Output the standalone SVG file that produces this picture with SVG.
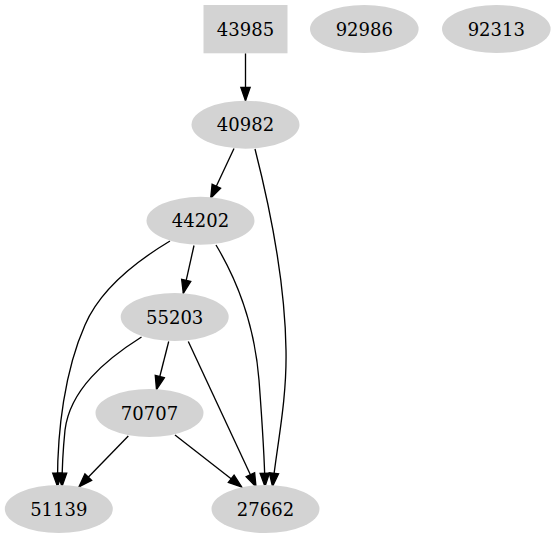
<svg xmlns="http://www.w3.org/2000/svg" width="555" height="539" viewBox="0 0 555 539">
<defs>
<style>
.n{fill:#d3d3d3;stroke:none}
.t{font-family:"DejaVu Serif","Liberation Serif",serif;font-size:18px;fill:#000;text-anchor:middle}
.e{fill:none;stroke:#000;stroke-width:1.33}
</style>
<marker id="ah" markerUnits="userSpaceOnUse" markerWidth="14" markerHeight="10" refX="13.3" refY="4.67" orient="auto" overflow="visible">
<path d="M0,0 L13.3,4.67 L0,9.33 Z" fill="#000" stroke="#000" stroke-width="1.33"/>
</marker>
</defs>
<rect width="555" height="539" fill="#fff"/>
<g id="edges">
<path class="e" marker-end="url(#ah)" d="M245.5,53.3 L245.5,100.7"/>
<path class="e" marker-end="url(#ah)" d="M234,148.5 L210.7,198.3"/>
<path class="e" marker-end="url(#ah)" d="M255,149 C268,200 285,280 286,350 C287,400 277,445 272.5,486.5"/>
<path class="e" marker-end="url(#ah)" d="M194,245.5 L183.3,293.3"/>
<path class="e" marker-end="url(#ah)" d="M170,241 C135,262 100,290 85,325 C65,370 57,430 57.5,486.5"/>
<path class="e" marker-end="url(#ah)" d="M216,245 C240,285 255,330 259,380 C262,420 264.5,455 265,486.5"/>
<path class="e" marker-end="url(#ah)" d="M141.5,337 C105,360 70,390 65,430 C63,450 62,466 62,486.5"/>
<path class="e" marker-end="url(#ah)" d="M168.7,341.5 L156.5,389.5"/>
<path class="e" marker-end="url(#ah)" d="M188.3,341.5 L256,486.7"/>
<path class="e" marker-end="url(#ah)" d="M128.3,436 L79,486.7"/>
<path class="e" marker-end="url(#ah)" d="M175,435 L241.7,487"/>
</g>
<g id="n43985"><rect class="n" x="203.5" y="5" width="84" height="48.3"/><text class="t" x="245.5" y="35.5">43985</text></g>
<g id="n92986"><ellipse class="n" cx="364.3" cy="29" rx="54.3" ry="24"/><text class="t" x="364.3" y="35.5">92986</text></g>
<g id="n92313"><ellipse class="n" cx="496.3" cy="29" rx="54.3" ry="24"/><text class="t" x="496.3" y="35.5">92313</text></g>
<g id="n40982"><ellipse class="n" cx="245.5" cy="124.7" rx="54" ry="24"/><text class="t" x="245.5" y="131.2">40982</text></g>
<g id="n44202"><ellipse class="n" cx="200.5" cy="220.8" rx="54" ry="24"/><text class="t" x="200.5" y="227.3">44202</text></g>
<g id="n55203"><ellipse class="n" cx="174.7" cy="317" rx="54" ry="24"/><text class="t" x="174.7" y="323.5">55203</text></g>
<g id="n70707"><ellipse class="n" cx="149.5" cy="413" rx="54" ry="24"/><text class="t" x="149.5" y="419.5">70707</text></g>
<g id="n51139"><ellipse class="n" cx="58.8" cy="509" rx="54" ry="24"/><text class="t" x="58.8" y="515.5">51139</text></g>
<g id="n27662"><ellipse class="n" cx="265.5" cy="509" rx="54" ry="24"/><text class="t" x="265.5" y="515.5">27662</text></g>
</svg>
